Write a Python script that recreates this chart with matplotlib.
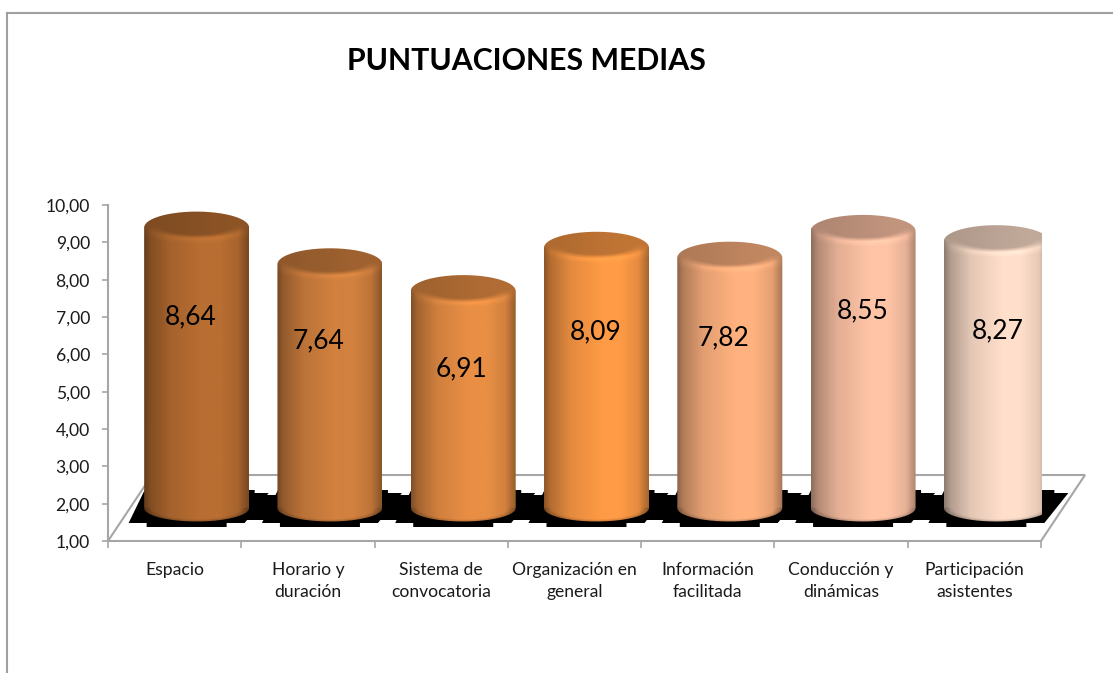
import matplotlib
matplotlib.use('Agg')
import matplotlib.pyplot as plt
import numpy as np
from matplotlib.lines import Line2D
from matplotlib.patches import PathPatch, Polygon
from matplotlib.path import Path

plt.rcParams['font.family'] = ['Lato', 'DejaVu Sans']

categories = ['Espacio', 'Horario y\nduración', 'Sistema de\nconvocatoria', 'Organización en\ngeneral',
              'Información\nfacilitada', 'Conducción y\ndinámicas', 'Participación\nasistentes']
scores = [8.64, 7.64, 6.91, 8.09, 7.82, 8.55, 8.27]
bar_colors = ['#B96E32', '#D2813F', '#E98F45', '#FF9B46', '#FFB27F', '#FFC4A6', '#FFDFCB']
y_ticks = [1, 2, 3, 4, 5, 6, 7, 8, 9, 10]

# hand placed value labels in the original, in pixels
label_dx = [-6, -11, -2, -1, -6, 0, 1]
label_drop = [89, 77, 78, 84, 80, 80, 90]

GRAY = '#A6A6A6'
X0, X1, Y0, Y1 = 108, 1041, 541, 205  # plot box in pixels
W, H = 1113, 673
PX = 7 / (X1 - X0)  # data units per pixel
PY = 9 / (Y0 - Y1)
DEPTH_X, DEPTH_Y = 44 * PX, 66 * PY
SEMI_X = 52.5 * PX
SEMI_TOP, SEMI_FOOT = 16 * PY, 13.5 * PY
BAR_SCALE = 36.7 / 37.33
SHADOW = [(-68, 15), (-50, 15), (-50, 19), (30, 19), (30, 15), (48, 15),
          (72, -15), (58, -15), (58, -18), (-52, -18)]


def shade_x(x):
    return np.interp(x, [-1, -0.88, -0.5, 0.1, 0.45, 0.8, 1], [0.55, 0.7, 0.89, 1.0, 1.0, 0.9, 0.65])


def draw_cylinder(ax, i, value, color):
    cx = i + 0.5 + DEPTH_X / 2
    base = 1 + DEPTH_Y / 2
    top = base + (value - 1) * BAR_SCALE

    xs = np.linspace(-1, 1, 220)
    ys = np.linspace(base - SEMI_FOOT * 1.05, top + SEMI_TOP * 1.05, 1100)
    xx, yy = np.meshgrid(xs, ys)

    factor = shade_x(xx)
    # top face with a soft bevel on its front edge
    centre = top + 2 * PY
    d_top = np.sqrt(xx ** 2 + ((yy - centre) / (SEMI_TOP * 0.85)) ** 2)
    face = 0.72 + 0.04 * np.sin(xx * 1.5 + 0.3)
    front = np.clip((centre - yy) / (SEMI_TOP * 0.4), 0, 1)
    rim = np.clip((d_top - 0.7) / 0.3, 0, 1) * front
    fade = np.clip((d_top - 1.0) / 0.35, 0, 1)
    lit = factor * (1.07 - 0.07 * fade)
    body_top = np.where(d_top < 1.0, face + (lit - face) * rim, lit)
    body_top = np.where((yy > centre) & (xx ** 2 < 1), face, body_top)
    factor = np.where(yy > top - SEMI_TOP * 2, body_top, factor)
    # darker front edge at the foot
    d_foot = np.sqrt(xx ** 2 + ((yy - base) / SEMI_FOOT) ** 2)
    foot = (yy < base) * np.clip((d_foot - 0.85) / 0.15, 0, 1)
    factor = factor * (1 - 0.2 * foot)

    rgb = np.array(matplotlib.colors.to_rgb(color))
    img = np.clip(factor[..., None] * rgb[None, None, :], 0, 1)
    im = ax.imshow(img, origin='lower', aspect='auto', zorder=3, interpolation='bilinear',
                   extent=(cx - SEMI_X, cx + SEMI_X, ys[0], ys[-1]))

    t = np.linspace(0, np.pi, 80)
    outline = np.concatenate([
        np.column_stack([cx + SEMI_X * np.cos(t), top + SEMI_TOP * np.sin(t)]),
        np.column_stack([cx - SEMI_X * np.cos(t), base - SEMI_FOOT * np.sin(t)]),
    ])
    clip = PathPatch(Path(np.vstack([outline, outline[0]])), transform=ax.transData, fc='none', ec='none')
    im.set_clip_path(clip)
    im.set_clip_box(None)

    shadow = [(cx + dx * PX, base - dy * PY) for dx, dy in SHADOW]
    ax.add_patch(Polygon(shadow, closed=True, fc='black', ec='none', zorder=2, clip_on=False))
    return cx, top


fig = plt.figure(figsize=(W / 100, H / 100), dpi=100)
ax = fig.add_axes([X0 / W, 1 - Y0 / H, (X1 - X0) / W, (Y0 - Y1) / H])

# floor outline behind the bars
floor_x = [0, DEPTH_X, 7 + DEPTH_X, 7]
floor_y = [1, 1 + DEPTH_Y, 1 + DEPTH_Y, 1]
ax.plot(floor_x, floor_y, color=GRAY, lw=1.5, zorder=1, clip_on=False, solid_joinstyle='miter')

for i, (value, color) in enumerate(zip(scores, bar_colors)):
    cx, top = draw_cylinder(ax, i, value, color)
    ax.annotate(f'{value:.2f}'.replace('.', ','), xy=(cx, top), xytext=(label_dx[i] * 0.72, -label_drop[i] * 0.72),
                textcoords='offset points', ha='center', va='center', fontsize=19, color='black', zorder=5)

# black band joining the shadows
band_l = 0.5 + DEPTH_X / 2
band_base = 1 + DEPTH_Y / 2
ax.fill_between([band_l, band_l + 6], band_base - 12 * PY, band_base + 13 * PY, color='black', lw=0, zorder=2)

ax.set_xlim(0, 7)
ax.set_ylim(1, 10)
ax.patch.set_alpha(0)
for side in ['top', 'right']:
    ax.spines[side].set_visible(False)
for side in ['left', 'bottom']:
    ax.spines[side].set_color(GRAY)
    ax.spines[side].set_linewidth(1.5)

ax.set_yticks(y_ticks)
ax.set_yticklabels([f'{v:.2f}'.replace('.', ',') for v in y_ticks])
ax.tick_params(axis='y', length=4, width=1.2, color=GRAY, labelsize=12.6, labelcolor='#1a1a1a', pad=9)
ax.set_xticks(np.arange(0, 8))
ax.set_xticklabels([])
ax.tick_params(axis='x', which='major', length=5, width=1.2, color=GRAY)
ax.set_xticks(np.arange(7) + 0.5, minor=True)
ax.set_xticklabels(categories, minor=True, fontsize=12.6, color='#1a1a1a', linespacing=1.45)
ax.tick_params(axis='x', which='minor', length=0, pad=15)

fig.text(526.5 / W, 1 - 61 / H, 'PUNTUACIONES MEDIAS', ha='center', va='center',
         fontsize=21.8, fontweight='bold', color='black')

# chart border, cut off by the crop on the right and at the foot
fig.add_artist(Line2D([7 / W, 7 / W], [0, 1 - 13 / H], color='#A0A0A0', lw=1.5))
fig.add_artist(Line2D([7 / W, 1], [1 - 13 / H, 1 - 13 / H], color='#A0A0A0', lw=1.5))

fig.savefig('out.png', dpi=100)
